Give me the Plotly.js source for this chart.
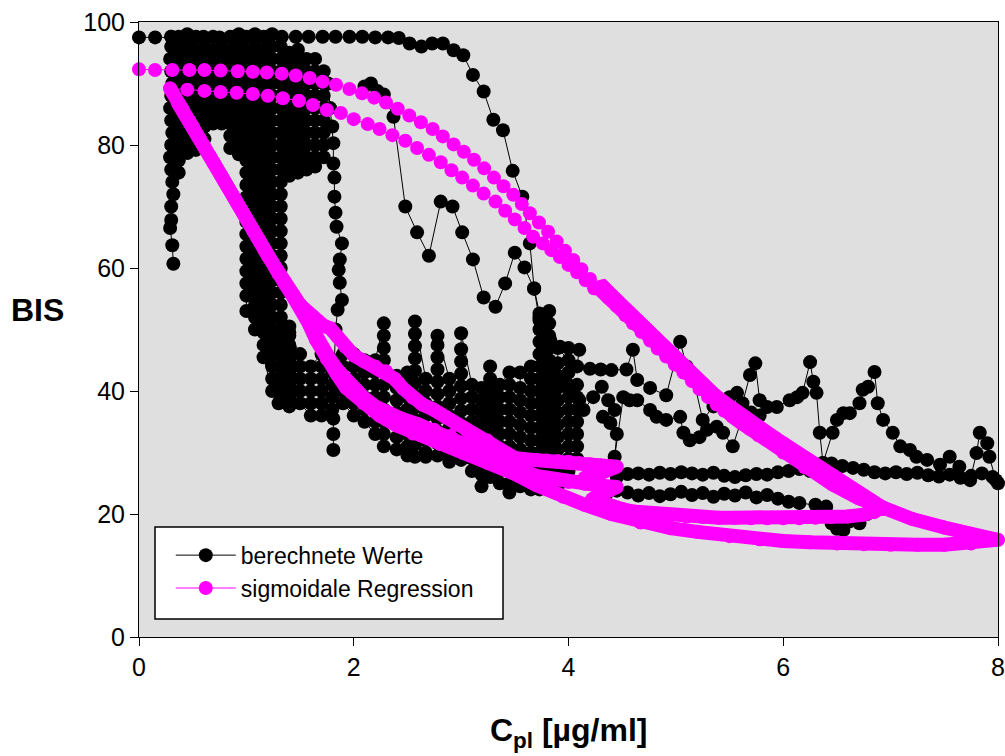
<!DOCTYPE html>
<html><head><meta charset="utf-8">
<script src="https://cdn.plot.ly/plotly-3.0.1.min.js"></script>
<style>html,body{margin:0;padding:0;background:#fff}#chart{width:1005px;height:756px}</style>
</head><body><div id="chart"></div><script>
// ---------- black series: "berechnete Werte" ----------
const kTop_x = [0,0.15,0.3,0.45,0.6,0.75,0.9,1.05,1.2,1.33,1.46,1.58,1.71,1.83,1.96,2.08,2.2,2.32,2.42,2.52,2.63,2.73,2.83,2.93,3.02,3.11,3.21,3.3,3.39,3.48,3.57,3.64,3.68,3.73,3.77,3.79];
const kTop_y = [97.5,97.5,97.6,97.6,97.6,97.5,97.6,97.6,97.6,97.6,97.6,97.6,97.6,97.6,97.6,97.6,97.5,97.5,97.4,96.5,96.0,96.5,96.5,95.4,94.6,91.4,88.7,84.1,82.4,75.8,71.6,64.0,56.7,52.6,48.5,44.0];
const kZig_x = [2.1,2.16,2.22,2.28,2.37,2.48,2.59,2.70,2.81,2.92,3.01,3.11,3.21,3.32,3.41,3.50,3.59,3.68,3.73,3.76];
const kZig_y = [89.5,90.0,88.8,88.2,84.6,70.0,65.8,62.0,70.8,70.0,65.8,61.4,55.2,53.7,57.5,62.5,60.1,56.6,51.5,47.5];
const kV18_x = [1.76,1.78,1.80,1.81,1.81,1.82,1.82,1.83,1.84,1.89,1.87,1.86,1.87,1.89,1.85,1.83,1.82,1.83,1.81,1.81,1.81];
const kV18_y = [90,86,83,80.3,77,74.7,71.6,69,66.7,64,61.4,59.7,57.6,54.8,53.2,50,45,40.5,35.5,33,30.4];
const kV03_x = [0.3,0.3,0.29,0.3,0.31,0.3,0.29,0.3,0.31,0.3,0.29,0.3,0.31,0.32,0.3,0.3,0.29,0.31,0.32];
const kV03_y = [97.6,96,94,92,90,88,86,84,82,80,78,76,74,72,70,67.8,66.5,63.7,60.7];
const cA_x = [0.37,0.45,0.53,0.61,0.69,0.77,0.85,0.93];
const cA_y = [
 [97.6,95.5,93.5,91.5,89.5,87.5,85.5,83.5,81.5,79.5,77.5,75.5],
 [78.7,80.5,82.5,84.5,86.5,88.5,90.5,92.5,94.5,96.5,98],
 [97.6,95.5,93.5,91.5,89.5,87.5,85.5,83.5,81.5,79.2],
 [79.5,81,83,85,87,89,91,93,95,97],
 [97.6,95.5,93.5,91.5,89.5,87.5,85.5,83.5],
 [83.5,85,87,89,91,93,95,97],
 [97.6,95.5,93.5,91.5,89.5,87.5,85.5,83.5,81.5,79.5],
 [78.5,80.5,82.5,84.5,86.5,88.5,90.5,92.5,94.5,96.5,98]];
const cB_x = [1.0,1.08,1.16,1.24,1.32,1.4];
const cB_y = [
 [97.6,95.5,93.5,91.5,89.5,87.5,85.5,83.5,81.5,79.5,77.5,75.5,73.5,71.5,69.5,67.5,65.5,63.5,61.5,59.5,57.5,55.5,53],
 [50,52,54,56,58,60,62,64,66,68,70,72,74,76,78,80,82,84,86,88,90,92,94,96,98],
 [97.6,95.5,93.5,91.5,89.5,87.5,85.5,83.5,81.5,79.5,77.5,75.5,73.5,71.5,69.5,67.5,65.5,63.5,61.5,59.5,57.5,55.5,53.5,51.5,49.5,47.5,45.5],
 [40,42,44,46,48,50,52,54,56,58,60,62,64,66,68,70,72,74,76,78,80,82,84,86,88,90,92,94,96,98],
 [96,94,92,90,88,86,84,82,80,78,76,74,72,70,68,66,64,62,60,58,56,54,52,50,48,46,44,42,40,38.5],
 [39,41,43,45,47,49,50.5]];
const cC_x = [1.4,1.48,1.56,1.64,1.72];
const cC_y = [
 [75,77,79,81,83,85,87,89,91,93,95],
 [95.5,93.5,91.5,89.5,87.5,85.5,83.5,81.5,79.5,77.5,75.5],
 [76,78,80,82,84,86,88,90,92,94],
 [94,92,90,88,86,84,82,80,78,76.5],
 [78,80,82,84,86,88,90,92]];
const cD_x = [1.3,1.4,1.5,1.6,1.7,1.8,1.9,2.0,2.1,2.2,2.28,2.4,2.5,2.57,2.67,2.78,2.89,3.0,3.1,3.19,3.27,3.36,3.45,3.55,3.65,3.73,3.82,3.9,4.0,4.08];
const cD_y = [
 [50,48,46,44,42,40,38],
 [37.5,39.5,41.5,43.5,45.5,47.5,49.5],
 [46,44,42,40,38],
 [36,38,40,42,44],
 [46,44,42,40,38,36],
 [37,39,41,43,45],
 [46,44,42,40,38],
 [36,38,40,42,44,46],
 [45,43,41,39,37,35],
 [33,35,37,39,41,43,45],
 [51,49,47,45,43,41,39,37,35,33,31],
 [30.5,32.5,34.5,36.5,38.5,40.5,42.5],
 [43,41,39,37,35,33,31,29.5],
 [29.3,31.3,33.3,35.3,37.3,39.3,41.3,43.3,45.3,47.3,49.3,51.3],
 [42,40,38,36,34,32,30,29.3],
 [29.5,31.5,33.5,35.5,37.5,39.5,41.5,43.5,45.5,47.5,49],
 [42,40,38,36,34,32,30,28.5],
 [28.8,30.8,32.8,34.8,36.8,38.8,40.8,42.8,44.8,46.8,49.4],
 [41,39,37,35,33,31,29,27],
 [24.5,26.5,28.5,30.5,32.5,34.5,36.5,38.5,40.5],
 [44,42,40,38,36,34,32,30,28,26],
 [25,27,29,31,33,35,37,39,41],
 [43,41,39,37,35,33,31,29,27,25,23.5],
 [24.5,26.5,28.5,30.5,32.5,34.5,36.5,38.5,40.5,43],
 [44,42,40,38,36,34,32,30,28,26,24],
 [24,26,28,30,32,34,36,38,40,42,44,46,48,50,52],
 [53,51,49,47,45,43,41,39,37,35,33,31,29,27,25,24],
 [24.5,26.5,28.5,30.5,32.5,34.5,36.5,38.5,40.5,42.5,44.5,47],
 [45,43,41,39,37,35,33,31,29,27,25.5],
 [29,31,33,35,37,39,41]];
const kJ1_x = [3.83,3.92,4.0,4.1,4.08,4.2,4.3,4.4,4.54,4.6,4.64,4.76,4.91,5.04,5.1,5.16,5.25,5.35,5.5,5.57,5.62,5.69,5.74,5.78,5.85,5.94,6.06,6.13,6.18,6.25,6.28,6.31,6.34,6.37,6.46,6.5,6.56,6.62,6.71,6.74,6.79,6.85,6.88,6.93,7.02,7.09,7.18,7.24,7.34,7.46,7.55,7.64,7.74,7.8,7.83,7.9,7.92,7.98];
const kJ1_y = [48.3,47.2,47.0,46.7,44.0,43.6,43.5,43.4,43.5,46.7,41.8,40.5,39.3,48.0,44.0,42.3,35.3,37.5,39.0,39.7,38.0,42.6,44.5,38.5,37.4,37.4,38.5,39.0,39.7,44.7,41.5,39.7,33.2,28.3,33.2,35.3,36.4,36.4,38.0,40.2,40.7,43.1,38.0,35.3,33.2,31.0,30.4,29.3,28.8,28.0,29.3,27.7,25.5,29.9,33.2,31.5,29.3,25.5];
const kJ2_x = [3.95,4.01,4.1,4.14,4.23,4.31,4.37,4.43,4.32,4.39,4.45,4.43,4.51,4.57,4.64,4.76,4.82,4.91,5.04,5.07,5.13,5.22,5.29,5.38,5.44,5.53,5.62,5.7,5.78,5.86,5.95,6.05,6.12];
const kJ2_y = [41.8,40.2,38.5,36.9,39.0,40.7,38.5,36.9,35.8,34.8,33.0,29.3,39.0,38.5,38.5,36.9,35.8,35.3,35.8,33.2,32.0,32.5,33.7,34.2,33.2,31.0,35.8,36.5,36.0,33.0,31.5,30.0,29.0];
const kL1_x = [4.45,4.55,4.65,4.75,4.85,4.95,5.05,5.15,5.25,5.35,5.45,5.55,5.65,5.75,5.85,5.95,6.05,6.15,6.25,6.37,6.45,6.55,6.65,6.75,6.85,6.95,7.05,7.15,7.25,7.35,7.45,7.55,7.65,7.75,7.85,7.95,8.0];
const kL1_y = [26.0,26.5,26.6,26.4,26.7,26.5,26.8,26.6,26.4,26.7,26.2,26.0,26.3,26.5,26.4,26.8,27.0,27.3,27.0,28.3,28.2,27.8,27.5,27.2,26.8,26.6,26.8,26.5,26.7,26.3,26.1,26.4,25.9,26.2,26.6,26.0,25.0];
const kL2_x = [4.35,4.45,4.55,4.65,4.75,4.85,4.95,5.05,5.15,5.25,5.35,5.45,5.55,5.65,5.75,5.85,5.95,6.05,6.15,6.3,6.4,6.45,6.5,6.56,6.62,6.71,6.78];
const kL2_y = [23.2,23.8,23.5,23.0,23.4,22.9,23.2,23.6,23.1,23.4,22.8,23.3,23.0,23.5,22.7,23.1,22.5,22.0,21.8,21.5,21.2,18.5,17.6,17.4,18.8,18.5,20.0];

// ---------- magenta series: "sigmoidale Regression" ----------
const mOuterTop_x = [0,0.149,0.31,0.47,0.61,0.76,0.92,1.06,1.19,1.33,1.46,1.59,1.71,1.835,1.96,2.077,2.19,2.3,2.41,2.517,2.625,2.735,2.83,2.93,3.025,3.12,3.215,3.306,3.395,3.486,3.565,3.64,3.725,3.81,3.89,3.967,4.045,4.12,4.2,4.28];
const mOuterTop_y = [92.3,92.2,92.2,92.2,92.2,92.1,92.0,91.9,91.8,91.6,91.3,90.9,90.3,89.8,89.1,88.4,87.7,86.9,85.9,84.8,83.7,82.6,81.4,80.1,78.9,77.6,76.2,74.7,73.3,71.9,70.4,68.9,67.4,65.9,64.3,62.8,61.3,59.8,58.2,56.7];
const mOuterTail_x = [4.28,4.37,4.45,4.53,4.6,4.68,4.76,4.83,4.91,4.99,5.07,5.15,5.22,5.3,5.38,5.45,5.53,5.61,5.69,5.77,5.85,6.0,6.2,6.46,6.7,6.93,7.2,7.5,7.75,8.0];
const mOuterTail_y = [56.7,55.2,53.8,52.3,51.0,49.6,48.2,46.9,45.6,44.3,43.0,41.6,40.3,39.0,37.8,36.8,35.8,34.8,33.8,32.8,32.0,30.0,27.6,24.8,22.6,20.8,19.2,17.8,16.7,15.8];
const mOuterBack_x = [8.0,7.75,7.5,7.25,7.0,6.75,6.5,6.25,6.0,5.78,5.5,5.2,4.95,4.67,4.4,4.15,3.95,3.7,3.49,3.25,3.02,2.8,2.55,2.4,2.24,2.09,1.93,1.84,1.75,1.65,1.58,1.5,1.44,1.36,1.27,1.17,1.07,0.97,0.87,0.77,0.67,0.57,0.47,0.36];
const mOuterBack_y = [15.8,15.2,15.0,15.0,15.0,15.1,15.2,15.4,15.6,15.9,16.4,17.1,17.7,18.6,20.0,21.5,22.8,24.7,26.6,28.3,29.9,31.4,33.1,34.4,36.0,38.0,40.5,42.8,45.2,48.3,51.0,54.0,55.2,57.4,59.9,62.9,65.9,68.9,71.9,74.9,77.9,80.9,83.9,86.9];
const mInnerTop_x = [0.29,0.45,0.61,0.76,0.91,1.06,1.2,1.34,1.49,1.62,1.75,1.88,2.0,2.13,2.24,2.36,2.48,2.59,2.7,2.81,2.91,3.01,3.11,3.21,3.32,3.41,3.5,3.59,3.67,3.76,3.84,3.92,4.0,4.08,4.16,4.24];
const mInnerTop_y = [89.2,89.0,88.8,88.6,88.5,88.3,88.0,87.6,87.2,86.5,85.7,85.2,84.2,83.4,82.6,81.6,80.7,79.5,78.4,77.2,75.9,74.7,73.4,72.1,70.8,69.3,67.9,66.5,65.1,64.0,62.9,61.8,60.5,59.3,58.0,56.7];
const mInnerTail_x = [4.24,4.32,4.4,4.48,4.56,4.64,4.72,4.8,4.88,4.96,5.04,5.12,5.2,5.28,5.36,5.44,5.52,5.6,5.68,5.76,5.84,5.92,6.0,6.15,6.3,6.45,6.6,6.75,6.93];
const mInnerTail_y = [56.7,57.0,55.6,54.2,52.8,51.4,50.0,48.6,47.2,45.8,44.5,43.2,41.9,40.6,39.4,38.3,37.2,36.2,35.2,34.2,33.3,32.4,31.5,29.7,27.9,26.2,24.6,23.0,21.0];
const mInnerBack_x = [6.93,6.85,6.75,6.6,6.45,6.3,6.15,6.0,5.85,5.7,5.55,5.4,5.25,5.1,4.95,4.8,4.7,4.6,4.5,4.4,4.3,4.22,4.3,4.38,4.45,4.3,4.15,4.0,3.83,3.7,3.6,3.48,3.36,3.2,3.05,2.9,2.75,2.6,2.43,2.3,2.2,2.1,2.0,1.92,1.85,1.78,1.7,1.63,1.56,1.5];
const mInnerBack_y = [21.0,20.3,19.9,19.6,19.5,19.4,19.3,19.3,19.3,19.3,19.4,19.4,19.5,19.6,19.8,20.0,20.2,20.4,20.8,21.2,21.8,22.4,23.2,23.9,24.4,24.6,24.9,25.2,25.5,26.2,26.9,27.8,28.7,30.2,31.6,32.7,33.7,34.6,35.6,36.5,37.5,38.8,40.4,41.8,43.4,45.1,47.3,49.4,51.7,54.0];
const mSteep_x = [1.5,1.4,1.3,1.2,1.1,1.0,0.9,0.8,0.7,0.6,0.5,0.4,0.29];
const mSteep_y = [54.0,56.5,59.0,62.0,65.0,68.0,71.0,74.0,77.0,80.0,83.0,86.0,89.2];
const mWavy_x = [1.5,1.58,1.66,1.72,1.78,1.85,1.92,2.0,2.1,2.2,2.3,2.38,2.46,2.55,2.64,2.74,2.85,2.95,3.05,3.15,3.24,3.33,3.42,3.5,3.6,3.7,3.8,3.9,4.0,4.1,4.2,4.3,4.45,4.32,4.15];
const mWavy_y = [54.0,52.6,51.2,50.6,50.2,48.8,47.2,45.8,44.8,44.0,43.2,42.0,40.4,38.9,37.8,37.0,35.8,34.6,33.6,32.7,32.0,30.7,29.6,29.1,28.9,28.8,28.7,28.6,28.5,28.3,28.1,27.9,27.7,26.8,25.9];

// ---------- assembly ----------
function columns(xs, ys) {
  const X = [], Y = [];
  xs.forEach((x, i) => ys[i].forEach(v => { X.push(x); Y.push(v); }));
  return [X, Y];
}
function joinSegs(segs) {
  const X = [], Y = [];
  segs.forEach((s, i) => { if (i) { X.push(null); Y.push(null); } X.push(...s[0]); Y.push(...s[1]); });
  return [X, Y];
}
const black = joinSegs([
  columns(cA_x, cA_y), columns(cB_x, cB_y), columns(cC_x, cC_y), columns(cD_x, cD_y),
  [kV03_x, kV03_y], [kV18_x, kV18_y], [kTop_x, kTop_y], [kZig_x, kZig_y],
  [kJ1_x, kJ1_y], [kJ2_x, kJ2_y], [kL1_x, kL1_y], [kL2_x, kL2_y]
]);
const MAG = '#ff00ff';
const MS = 14;
const traces = [
  {x: black[0], y: black[1], type: 'scatter', mode: 'lines+markers', name: 'berechnete Werte',
   line: {color: '#000', width: 1}, marker: {color: '#000', size: MS}, cliponaxis: false, connectgaps: false},
  {x: mOuterTop_x, y: mOuterTop_y, type: 'scatter', mode: 'lines+markers', name: 'sigmoidale Regression',
   line: {color: MAG, width: 1}, marker: {color: MAG, size: MS}, cliponaxis: false},
  {x: mInnerTop_x, y: mInnerTop_y, type: 'scatter', mode: 'lines+markers', showlegend: false,
   line: {color: MAG, width: 1}, marker: {color: MAG, size: MS}, cliponaxis: false}
];
[[mOuterTail_x, mOuterTail_y], [mOuterBack_x, mOuterBack_y], [mInnerTail_x, mInnerTail_y],
 [mInnerBack_x, mInnerBack_y], [mSteep_x, mSteep_y], [mWavy_x, mWavy_y]].forEach(s => {
  traces.push({x: s[0], y: s[1], type: 'scatter', mode: 'lines+markers', showlegend: false,
    line: {color: MAG, width: MS}, marker: {color: MAG, size: MS}, cliponaxis: false});
});

const FONT = 'Arial, "Liberation Sans", sans-serif';
const layout = {
  width: 1005, height: 756,
  margin: {l: 139, r: 7, t: 22, b: 119, pad: 0},
  paper_bgcolor: '#ffffff', plot_bgcolor: '#dfdfdf',
  font: {family: FONT, color: '#000', size: 23},
  showlegend: true,
  legend: {x: 0.037, y: 0.168, xanchor: 'left', yanchor: 'top', bgcolor: 'rgba(0,0,0,0)',
    borderwidth: 0, font: {family: FONT, size: 23, color: '#000'}, itemwidth: 60, tracegroupgap: 0},
  xaxis: {range: [0, 8], dtick: 2, tick0: 0, showgrid: false, zeroline: false, showline: true, mirror: true,
    linecolor: '#000', linewidth: 1, ticks: 'outside', ticklen: 8, tickcolor: '#000',
    tickfont: {family: FONT, size: 25, color: '#000'}},
  yaxis: {range: [0, 100], dtick: 20, tick0: 0, showgrid: false, zeroline: false, showline: true, mirror: true,
    linecolor: '#000', linewidth: 1, ticks: 'outside', ticklen: 8, tickcolor: '#000',
    tickfont: {family: FONT, size: 25, color: '#000'}},
  shapes: [{type: 'rect', xref: 'paper', yref: 'paper', x0: 0.01863, x1: 0.42375, y0: 0.02927, y1: 0.17886,
    fillcolor: '#ffffff', line: {color: '#000', width: 1.5}, layer: 'below'}],
  annotations: [
    {text: '<b>BIS</b>', xref: 'paper', yref: 'paper', x: -0.1176, y: 0.5317, xanchor: 'center', yanchor: 'middle',
     showarrow: false, font: {family: FONT, size: 32, color: '#000'}},
    {text: '<b>C<sub>pl</sub> [µg/ml]</b>', xref: 'paper', yref: 'paper', x: 0.5, y: -0.156, xanchor: 'center', yanchor: 'middle',
     showarrow: false, font: {family: FONT, size: 32, color: '#000'}}
  ]
};
Plotly.newPlot('chart', traces, layout, {displayModeBar: false, staticPlot: true});
</script></body></html>
